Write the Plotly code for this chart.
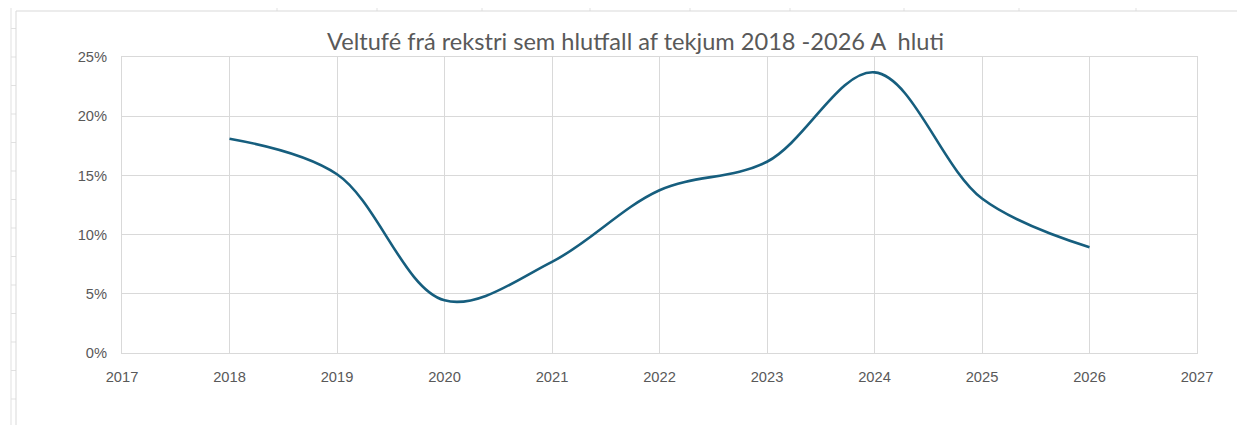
import plotly.graph_objects as go

# data
years = [2018, 2019, 2020, 2021, 2022, 2023, 2024, 2025, 2026]
ratio = [0.181, 0.151, 0.0445, 0.077, 0.1375, 0.1615, 0.237, 0.1305, 0.0893]

title = "Veltufé frá rekstri sem hlutfall af tekjum 2018 -2026 A\u00a0 hluti"

# the page body adds an 8px offset, so the figure is drawn 8px smaller
OFF = 8
W, H = 1245 - OFF, 425 - OFF
L, R, T, B = 122 - OFF, 48, 57 - OFF, 72
grey = "#595959"
grid = "#d9d9d9"
sheet = "#e1e1e1"


def px(x):
    return (x - OFF - L) / (W - L - R)


def py(y):
    return (H - B - (y - OFF)) / (H - T - B)


fig = go.Figure()
fig.add_trace(
    go.Scatter(
        x=years,
        y=ratio,
        mode="lines",
        line=dict(color="#165e7e", width=2.6, shape="spline", smoothing=1.0),
        hoverinfo="x+y",
    )
)

axis_style = dict(
    showgrid=True,
    gridcolor=grid,
    gridwidth=1,
    showline=True,
    linecolor=grid,
    linewidth=1,
    mirror=True,
    zeroline=False,
    ticks="",
    tickfont=dict(family="Liberation Sans, Arial, sans-serif", size=14.7, color=grey),
)
fig.update_xaxes(range=[2017, 2027], dtick=1, ticklabelstandoff=10, **axis_style)
fig.update_yaxes(range=[0, 0.25], dtick=0.05, tickformat=".0%", ticklabelstandoff=11, **axis_style)

# spreadsheet cell lines around the chart object
shapes = []
line_sheet = dict(color=sheet, width=1)
shapes.append(dict(type="line", xref="paper", yref="paper", x0=px(11), x1=px(11), y0=py(0), y1=py(430), line=line_sheet))
for k in range(1, 15):
    yy = k * 28.5
    shapes.append(dict(type="line", xref="paper", yref="paper", x0=px(11), x1=px(16), y0=py(yy), y1=py(yy), line=line_sheet))
for xx in [277, 377, 482, 590, 690, 790, 904, 1019, 1136]:
    shapes.append(dict(type="line", xref="paper", yref="paper", x0=px(xx), x1=px(xx), y0=py(0), y1=py(11), line=line_sheet))
# chart area border
border = dict(color=grid, width=1)
shapes.append(dict(type="line", xref="paper", yref="paper", x0=px(16), x1=px(1250), y0=py(11), y1=py(11), line=border))
shapes.append(dict(type="line", xref="paper", yref="paper", x0=px(16), x1=px(16), y0=py(11), y1=py(430), line=border))

fig.update_layout(
    width=W,
    height=H,
    margin=dict(l=L, r=R, t=T, b=B, pad=0),
    paper_bgcolor="white",
    plot_bgcolor="white",
    showlegend=False,
    shapes=shapes,
    title=dict(
        text=title,
        x=(635.5 - OFF) / W,
        xanchor="center",
        xref="container",
        y=1 - (42 - OFF) / H,
        yanchor="middle",
        yref="container",
        font=dict(family="Lato, Open Sans, sans-serif", size=23.6, color=grey),
    ),
)

fig.write_html("out.html")
